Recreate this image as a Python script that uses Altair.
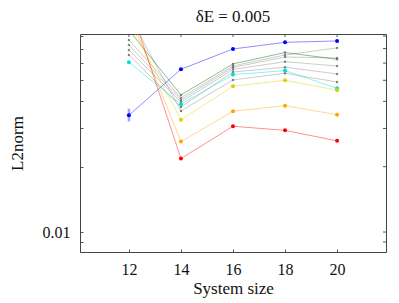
import altair as alt
import pandas as pd

sizes = [12, 14, 16, 18, 20]

series_names = ["g1", "g2", "g3", "g4", "g5", "blue", "cyan", "green", "yellow", "orange", "red"]
series_colors = ["#8a8a8a", "#8a8a8a", "#8a8a8a", "#8a8a8a", "#8a8a8a",
                 "#0000ff", "#00dede", "#006400", "#dcd000", "#ffa500", "#ff0000"]

g1 = [0.0767, 0.0415, 0.0582, 0.0654, 0.0705]
g2 = [0.0727, 0.0406, 0.0573, 0.0640, 0.0634]
g3 = [0.0690, 0.0397, 0.0561, 0.0609, 0.0582]
g4 = [0.0654, 0.0377, 0.0546, 0.0574, 0.0535]
g5 = [0.1000, 0.0361, 0.0502, 0.0539, 0.0491]
blue = [0.0345, 0.0562, 0.0697, 0.0748, 0.0759]
cyan = [0.0605, 0.0388, 0.0531, 0.0554, 0.0459]
green = [0.0851, 0.0428, 0.0595, 0.0671, 0.0625]
yellow = [0.0930, 0.0329, 0.0469, 0.0500, 0.0450]
orange = [0.1025, 0.0261, 0.0360, 0.0382, 0.0347]
red = [0.1150, 0.0218, 0.0307, 0.0294, 0.0263]

blue_err_low = [0.0323]
blue_err_high = [0.0370]
err_x = [12]

y_ticks = [0.009, 0.01, 0.02, 0.03, 0.04, 0.05, 0.06, 0.07, 0.08]
x_ticks = [12, 14, 16, 18, 20]

all_series = [g1, g2, g3, g4, g5, blue, cyan, green, yellow, orange, red]
rows = []
for name, vals in zip(series_names, all_series):
    for s, v in zip(sizes, vals):
        rows.append({"size": s, "l2": v, "series": name,
                     "kind": "gray" if name.startswith("g") else "col"})
df = pd.DataFrame(rows)
err_df = pd.DataFrame({"size": err_x, "lo": blue_err_low, "hi": blue_err_high})
xt_df = pd.DataFrame({"t": x_ticks})
yt_df = pd.DataFrame({"t": y_ticks})

W, H = 306, 218
FONT = "Liberation Serif"
TICK = "#555"
xscale = alt.Scale(domain=[10.12, 21.88], nice=False, zero=False)
yscale = alt.Scale(type="log", domain=[0.00809, 0.0817], nice=False)
cscale = alt.Scale(domain=series_names, range=series_colors)

x_bottom = alt.X("size:Q", scale=xscale, title="System size",
                 axis=alt.Axis(values=x_ticks, grid=False, domain=False, offset=-3,
                               tickSize=3, tickColor=TICK, labelPadding=9,
                               labelFontSize=16, labelColor="#111",
                               titleFontSize=17, titleColor="#111", titlePadding=3,
                               labelAngle=0))
y_left = alt.Y("l2:Q", scale=yscale, title="L2norm",
               axis=alt.Axis(values=y_ticks, grid=False, domain=False, offset=-3,
                             tickSize=3, tickColor=TICK, labelPadding=10,
                             labelExpr="datum.value == 0.01 ? '0.01' : ''",
                             labelFontSize=16, labelColor="#111",
                             titleFontSize=17, titleColor="#111", titlePadding=16))

lines = alt.Chart(df).mark_line(clip=True, strokeWidth=0.8, opacity=0.55).encode(
    x=x_bottom, y=y_left,
    color=alt.Color("series:N", scale=cscale, legend=None),
    order=alt.Order("size:Q"),
)

pts_col = alt.Chart(df[df.kind == "col"]).mark_circle(clip=True, size=16, opacity=1).encode(
    x=alt.X("size:Q", scale=xscale), y=alt.Y("l2:Q", scale=yscale),
    color=alt.Color("series:N", scale=cscale, legend=None),
)
pts_gray = alt.Chart(df[df.kind == "gray"]).mark_circle(clip=True, size=6, opacity=0.8, color="#666").encode(
    x=alt.X("size:Q", scale=xscale), y=alt.Y("l2:Q", scale=yscale),
)

err = alt.Chart(err_df).mark_rule(color="#0000ff", opacity=0.35, strokeWidth=2.5).encode(
    x=alt.X("size:Q", scale=xscale), y=alt.Y("lo:Q", scale=yscale), y2="hi:Q",
)

top_ticks = alt.Chart(xt_df).mark_rule(color=TICK, strokeWidth=1).encode(
    x=alt.X("t:Q", scale=xscale), y=alt.value(0), y2=alt.value(3),
)
right_ticks = alt.Chart(yt_df).mark_rule(color=TICK, strokeWidth=1).encode(
    y=alt.Y("t:Q", scale=yscale), x=alt.value(W - 3), x2=alt.value(W),
)

chart = alt.layer(lines, err, pts_gray, pts_col, top_ticks, right_ticks).properties(
    width=W, height=H,
    padding={"left": 72, "top": 26, "right": 5, "bottom": 50},
    autosize=alt.AutoSizeParams(type="none"),
    title=alt.Title("δE = 0.005", fontSize=17, color="#111", offset=8),
).configure(font=FONT).configure_view(stroke="#444", strokeWidth=1).configure_title(
    font=FONT, fontWeight="normal"
).configure_axis(labelFont=FONT, titleFont=FONT, titleFontWeight="normal")

chart.save("out.html", embed_options={"renderer": "svg", "actions": False})
